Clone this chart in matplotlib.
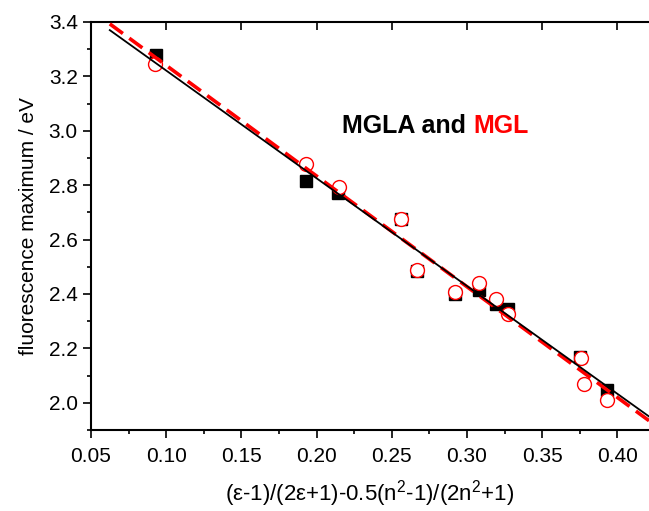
import matplotlib
matplotlib.use('Agg')
import matplotlib.pyplot as plt
from matplotlib.ticker import MultipleLocator

plt.rcParams['font.family'] = ['Liberation Sans', 'DejaVu Sans']
plt.rcParams['mathtext.default'] = 'regular'

# MGLA (black squares)
mgla_x = [0.093, 0.193, 0.214, 0.256, 0.267, 0.292, 0.308, 0.319, 0.327, 0.375, 0.393]
mgla_y = [3.278, 2.814, 2.770, 2.674, 2.486, 2.401, 2.416, 2.365, 2.346, 2.169, 2.048]

# MGL (red open circles)
mgl_x = [0.0926, 0.193, 0.215, 0.256, 0.267, 0.292, 0.308, 0.319, 0.327, 0.376, 0.378, 0.393]
mgl_y = [3.245, 2.877, 2.792, 2.674, 2.490, 2.409, 2.442, 2.383, 2.328, 2.166, 2.070, 2.011]

# linear fits (end points)
fit_x = [0.0625, 0.425]
fit_mgla = [3.370, 1.934]
fit_mgl = [3.393, 1.918]

fig = plt.figure(figsize=(6.49, 5.11), dpi=100)
ax = fig.add_axes([0.1402, 0.1585, 0.8598, 0.7985])

ax.plot(mgla_x, mgla_y, 's', color='black', ms=8, zorder=1)
ax.plot(mgl_x, mgl_y, 'o', mfc='white', mec='red', mew=1.0, ms=10, zorder=2)
ax.plot(fit_x, fit_mgl, color='red', lw=2.6, dashes=(4.5, 2.2), zorder=3)
ax.plot(fit_x, fit_mgla, color='black', lw=1.3, zorder=4)

t = ax.text(0.45, 0.745, 'MGLA and', transform=ax.transAxes, fontsize=18,
            fontweight='bold', ha='left', va='center', color='black')
ax.annotate('MGL', xy=(1, 0), xycoords=t, xytext=(5, 0), textcoords='offset points',
            fontsize=18, fontweight='bold', ha='left', va='bottom', color='red')

ax.set_xlim(0.05, 0.421)
ax.set_ylim(1.9, 3.4)
ax.xaxis.set_major_locator(MultipleLocator(0.05))
ax.xaxis.set_minor_locator(MultipleLocator(0.025))
ax.yaxis.set_major_locator(MultipleLocator(0.2))
ax.yaxis.set_minor_locator(MultipleLocator(0.1))
ax.xaxis.set_major_formatter(plt.FormatStrFormatter('%.2f'))
ax.yaxis.set_major_formatter(plt.FormatStrFormatter('%.1f'))

ax.spines['right'].set_visible(False)
for s in ['left', 'bottom', 'top']:
    ax.spines[s].set_linewidth(1.5)

ax.tick_params(which='major', direction='out', length=6, width=1.2, labelsize=15)
ax.tick_params(which='minor', direction='out', length=3, width=1.2)
ax.tick_params(axis='x', which='major', pad=6)

sec = ax.secondary_xaxis('top')
sec.xaxis.set_major_locator(MultipleLocator(0.05))
sec.tick_params(direction='in', length=6, width=1.2, labeltop=False)
sec.spines['top'].set_visible(False)

ax.set_xlabel('(ε-1)/(2ε+1)-0.5(n$^2$-1)/(2n$^2$+1)', fontsize=16, labelpad=9)
ax.set_ylabel('fluorescence maximum / eV', fontsize=15, labelpad=8)

fig.savefig('out.png', dpi=100)
